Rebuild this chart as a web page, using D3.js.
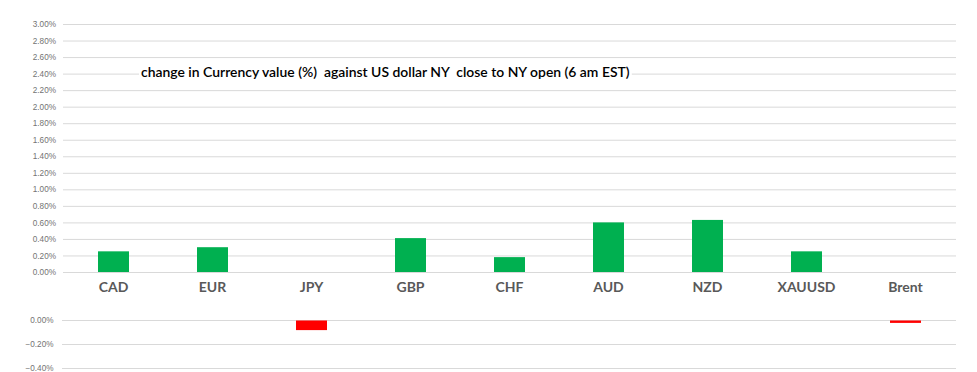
<!DOCTYPE html>
<html>
<head>
<meta charset="utf-8">
<script src="https://cdn.jsdelivr.net/npm/d3@7"></script>
<style>
  body { margin: 0; background: #fff; }
  svg { display: block; font-family: Lato, "Open Sans", sans-serif; }
</style>
</head>
<body>
<div id="chart"></div>
<script>
const width = 977;
const height = 372;

// change in value vs USD, as fractions
const categories = ["CAD", "EUR", "JPY", "GBP", "CHF", "AUD", "NZD", "XAUUSD", "Brent"];
const values = [0.0025, 0.0030, -0.0008, 0.0041, 0.0018, 0.0060, 0.0063, 0.0025, -0.0002];
const topTicks = d3.range(0, 16).map(i => i * 0.002);
const bottomTicks = [0, -0.002, -0.004];
const title = "change in Currency value (%)  against US dollar NY  close to NY open (6 am EST)";

const svg = d3.select("#chart")
    .append("svg")
    .attr("width", width)
    .attr("height", height);

const x = d3.scaleBand()
    .domain(categories)
    .range([64, 955])
    .paddingInner(0.687)
    .paddingOuter(0.3435);

const yTop = d3.scaleLinear().domain([0, 0.03]).range([272, 24]);
const yBot = d3.scaleLinear().domain([-0.004, 0]).range([368, 320]);

const fmt = d3.format(".2%");

function drawAxis(scale, ticks, left, labelX) {
    const g = svg.append("g")
        .attr("transform", `translate(${left},0)`)
        .call(d3.axisLeft(scale)
            .tickValues(ticks)
            .tickFormat(fmt)
            .tickSize(-(956 - left))
            .tickPadding(0));
    g.select(".domain").remove();
    g.selectAll(".tick line").attr("stroke", "#d9d9d9");
    g.selectAll(".tick text")
        .attr("x", labelX - left)
        .attr("fill", "#737373")
        .style("font-size", "8.2px");
}

drawAxis(yTop, topTicks, 63, 56);
drawAxis(yBot, bottomTicks, 62, 53.5);

// positive changes in the upper panel
svg.append("g")
    .selectAll("rect")
    .data(categories.map((c, i) => ({c, v: values[i]})).filter(d => d.v > 0))
    .join("rect")
    .attr("x", d => x(d.c))
    .attr("width", x.bandwidth())
    .attr("y", d => yTop(d.v))
    .attr("height", d => yTop(0) - yTop(d.v))
    .attr("fill", "#00b050");

// negative changes in the lower panel
svg.append("g")
    .selectAll("rect")
    .data(categories.map((c, i) => ({c, v: values[i]})).filter(d => d.v < 0))
    .join("rect")
    .attr("x", d => x(d.c))
    .attr("width", x.bandwidth())
    .attr("y", yBot(0) + 0.5)
    .attr("height", d => yBot(d.v) - yBot(0))
    .attr("fill", "#ff0000");

// category labels
svg.append("g")
    .selectAll("text")
    .data(categories)
    .join("text")
    .attr("x", d => x(d) + x.bandwidth() / 2)
    .attr("y", 292)
    .attr("text-anchor", "middle")
    .attr("fill", "#595959")
    .style("font-size", "14px")
    .style("font-weight", "bold")
    .text(d => d);

// title, sized to span the same width as the original
const tg = svg.append("g");
const bg = tg.append("rect").attr("fill", "#fff");
const tt = tg.append("text")
    .attr("x", 141)
    .attr("y", 77)
    .attr("fill", "#000")
    .style("font-size", "13.5px")
    .style("font-weight", "600")
    .style("white-space", "pre")
    .text(title);
const len = tt.node().getComputedTextLength();
tt.style("font-size", (13.5 * 489 / len) + "px");
const bb = tt.node().getBBox();
bg.attr("x", bb.x - 2).attr("y", bb.y).attr("width", bb.width + 4).attr("height", bb.height);
</script>
</body>
</html>
